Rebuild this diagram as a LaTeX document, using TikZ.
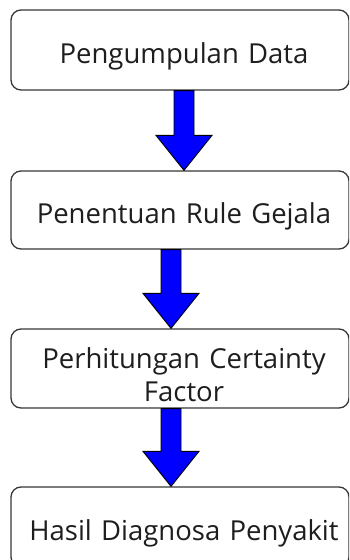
\documentclass[tikz,border=0pt]{standalone}
\usepackage{fontspec}
\setmainfont{Open Sans}
\usepackage{tikz}
\usetikzlibrary{calc}
\usepackage{xcolor}
\definecolor{boxline}{RGB}{55, 55, 55}
\definecolor{flowblue}{RGB}{0, 0, 255}
\definecolor{textdark}{RGB}{30, 30, 30}

% block arrow from one box to the next: from, to, x offset
\newcommand{\flowarrow}[3]{%
    \draw[flowarr] ($(#1.south)+(#3-10,0)$) -- ($(#2.north)+(#3-10,35)$)
        -- ($(#2.north)+(#3-28,35)$) -- ($(#2.north)+(#3,0)$)
        -- ($(#2.north)+(#3+28,35)$) -- ($(#2.north)+(#3+10,35)$)
        -- ($(#1.south)+(#3+10,0)$) -- cycle;
}

\begin{document}
\begin{tikzpicture}[x=1pt, y=1pt,
        process/.style={draw=boxline, line width=1.3pt, rounded corners=10pt, fill=white,
            minimum width=338pt, text width=322pt, inner xsep=8pt, inner ysep=3pt,
            align=center, text=textdark,
            font=\fontsize{27.5}{33}\selectfont,
            execute at begin node={\advance\leftskip by 8pt\rule{0pt}{33pt}}},
        flowarr/.style={draw=black, line width=0.9pt, fill=flowblue, line join=miter}]
    \clip (0,0) rectangle (349,-560);
    \useasboundingbox (0,0) rectangle (349,-560);

    \node[process, minimum height=80pt] (collect) at (180,-50) {Pengumpulan Data};
    \node[process, minimum height=78pt] (rules) at (180,-210) {Penentuan Rule Gejala};
    \node[process, minimum height=79pt] (cf) at (180,-368.5) {Perhitungan Certainty\\Factor};
    \node[process, minimum height=80pt] (result) at (180,-527) {Hasil Diagnosa Penyakit};

    \flowarrow{collect}{rules}{4}
    \flowarrow{rules}{cf}{-9}
    \flowarrow{cf}{result}{-9}
\end{tikzpicture}
\end{document}
